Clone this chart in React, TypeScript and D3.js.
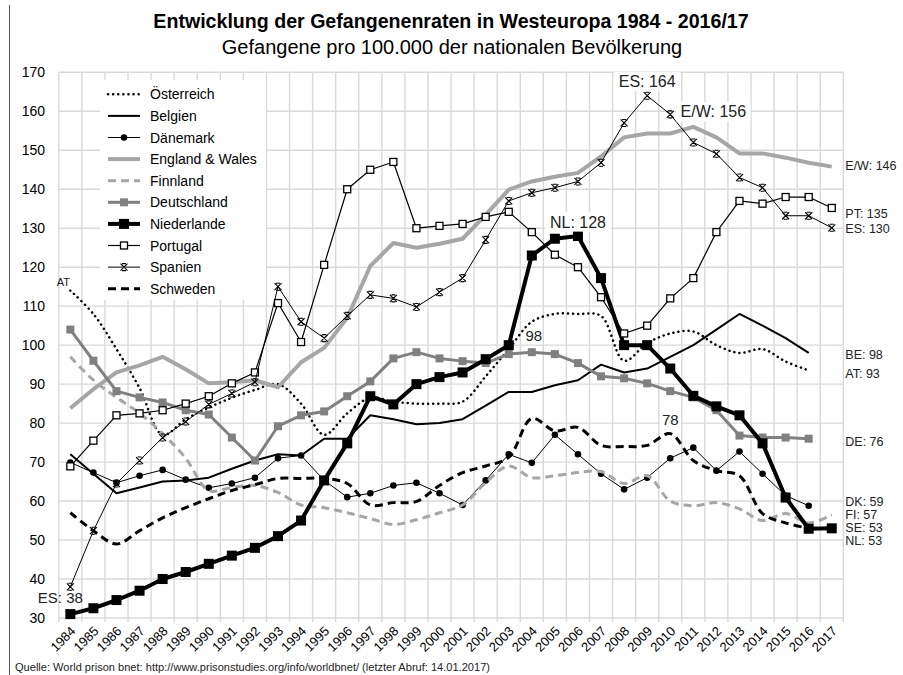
import React from 'react';
import * as d3 from 'd3';

// years on the category axis
const years = ['1984', '1985', '1986', '1987', '1988', '1989', '1990', '1991', '1992', '1993', '1994', '1995', '1996', '1997', '1998', '1999', '2000', '2001', '2002', '2003', '2004', '2005', '2006', '2007', '2008', '2009', '2010', '2011', '2012', '2013', '2014', '2015', '2016', '2017'];

const yTicks = [30, 40, 50, 60, 70, 80, 90, 100, 110, 120, 130, 140, 150, 160, 170];

// prisoners per 100,000 inhabitants
const oesterreich = [114, 108, 99, 89, 77, 81, 84, 86.5, 88.5, 90, 85, 77, 82.5, 86.5, 85.5, 85, 85, 85.5, 92, 99, 106, 108, 108, 107.5, 96, 100.5, 103, 103.5, 100, 98, 99, 95.8, 93.5, null];
const belgien = [72, 67, 62, 63.5, 65, 65.3, 66, 68.3, 70.4, 72, 71.7, 76, 76, 82, 81, 79.7, 80, 81, 84.5, 88, 88, 89.7, 91, 95, 93, 94, 97, 100, 104, 108, 105, 101.8, 98, null];
const daenemark = [69.9, 67.3, 64.7, 66.5, 68, 65.5, 63.4, 64.5, 66, 71, 71.7, 65.3, 61, 62, 64, 64.7, 62, 59, 65.3, 72, 69.8, 77, 72, 67, 63, 66, 71, 73.7, 67.8, 72.7, 67, 61.4, 58.8, null];
const englandWales = [83.8, 88.7, 93, 94.8, 97, 93.8, 90.2, 90.5, 91, 89.2, 95.6, 99.3, 107, 120.3, 126.2, 125, 126, 127.3, 133.4, 139.9, 142, 143.2, 144.2, 148.4, 153.3, 154.3, 154.3, 156, 153.3, 149.2, 149.2, 148.1, 146.8, 145.8];
const finnland = [97, 91, 86.6, 82.5, 77.3, 71, 62.7, 63.5, 64, 62.2, 59, 58.3, 57, 55.5, 54, 55.2, 57, 59, 64.7, 69, 66, 66.5, 67.3, 67.6, 64.5, 66.5, 60, 58.8, 59.6, 58, 55, 56.8, 54.4, 56.5];
const deutschland = [104, 96, 88.2, 86.6, 85.3, 83.3, 82.2, 76.3, 70.4, 79.2, 82, 83, 86.9, 90.7, 96.6, 98.2, 96.6, 95.9, 95.4, 97.7, 98.2, 97.7, 95.4, 92, 91.5, 90.2, 88.2, 86.6, 83.3, 76.8, 76.3, 76.3, 76, null];
const niederlande = [31, 32.5, 34.6, 37, 40, 41.8, 43.9, 46, 48, 51, 55, 65.3, 74.8, 86.9, 84.8, 90, 91.8, 93, 96.4, 100, 123, 127.3, 128, 117.2, 100, 100, 94, 87, 84.3, 82, 74.8, 60.9, 52.9, 53];
const portugal = [68.9, 75.5, 82, 82.5, 83.3, 85, 86.9, 90.2, 93, 110.8, 100.8, 120.6, 140, 145, 147, 130, 130.6, 131.1, 132.9, 134.2, 129, 123.2, 120, 112.3, 103, 105, 112, 117.2, 129, 137, 136.3, 138, 138, 135.2];
const spanien = [38, 52.4, 64.5, 70.4, 76.3, 80.4, 84.8, 87.6, 90.5, 115, 106, 101.8, 107.5, 112.9, 112, 109.8, 113.6, 117.2, 127, 137, 139.1, 140.4, 142, 146.8, 157, 164, 159.2, 152, 149.1, 143, 140.4, 133.2, 133.2, 130.1];
const schweden = [57, 52.4, 49, 52.4, 55.7, 58.3, 60.6, 62.7, 64.2, 65.8, 65.8, 65.8, 64.5, 59, 59.6, 59.9, 64, 67.3, 69, 71.2, 81.2, 78, 78.9, 74.3, 74, 74.3, 77.3, 70.4, 67.8, 66.5, 56.8, 54.4, 53, null];

const seriesNames = ['Österreich', 'Belgien', 'Dänemark', 'England & Wales', 'Finnland', 'Deutschland', 'Niederlande', 'Portugal', 'Spanien', 'Schweden'];
const seriesValues = [oesterreich, belgien, daenemark, englandWales, finnland, deutschland, niederlande, portugal, spanien, schweden];

// labels inside the plot: text, year, value, offset
const innerLabels = [
  {text: 'AT', year: '1984', value: 114, dx: -7, dy: -9, size: 11, box: false},
  {text: 'ES: 38', year: '1984', value: 38, dx: -10, dy: 11, size: 15, box: false},
  {text: 'ES: 164', year: '2009', value: 164, dx: 0, dy: -14, size: 16, box: true},
  {text: 'E/W: 156', year: '2011', value: 156, dx: 20, dy: -15, size: 16, box: true},
  {text: 'NL: 128', year: '2006', value: 128, dx: 0, dy: -14, size: 16, box: true},
  {text: '98', year: '2004', value: 98, dx: 2, dy: -17, size: 15, box: false},
  {text: '78', year: '2010', value: 78, dx: 0, dy: -11, size: 15, box: true},
];

// end labels right of the plot
const endLabels = [
  {text: 'E/W: 146', value: 146, dy: 0},
  {text: 'PT: 135', value: 135, dy: 5},
  {text: 'ES: 130', value: 130, dy: 1},
  {text: 'BE: 98', value: 98, dy: 2},
  {text: 'AT: 93', value: 93, dy: 2},
  {text: 'DE: 76', value: 76, dy: 3},
  {text: 'DK: 59', value: 59, dy: -3},
  {text: 'FI: 57', value: 57, dy: 2.5},
  {text: 'SE: 53', value: 53, dy: 0},
  {text: 'NL: 53', value: 53, dy: 12.5},
];

const FONT = '"Liberation Sans", Arial, sans-serif';

const styles = [
  {color: '#000', width: 2.5, dash: '0.1 5', cap: 'round', smooth: true, marker: null},
  {color: '#000', width: 2, dash: null, cap: 'butt', smooth: false, marker: null},
  {color: '#000', width: 1, dash: null, cap: 'butt', smooth: false, marker: 'circle'},
  {color: '#a6a6a6', width: 4, dash: null, cap: 'butt', smooth: false, marker: null},
  {color: '#a6a6a6', width: 3, dash: '8 5', cap: 'butt', smooth: true, marker: null},
  {color: '#808080', width: 3, dash: null, cap: 'butt', smooth: false, marker: 'greySquare'},
  {color: '#000', width: 4, dash: null, cap: 'butt', smooth: false, marker: 'bigSquare'},
  {color: '#000', width: 1.2, dash: null, cap: 'butt', smooth: false, marker: 'openSquare'},
  {color: '#000', width: 1, dash: null, cap: 'butt', smooth: false, marker: 'star'},
  {color: '#000', width: 3, dash: '8 5', cap: 'butt', smooth: true, marker: null},
];

function Marker({type, x, y}: {type: string | null; x: number; y: number}) {
  if (type === 'circle') return <circle cx={x} cy={y} r={3.3} fill="#000" />;
  if (type === 'greySquare') return <rect x={x - 4} y={y - 4} width={8} height={8} fill="#808080" />;
  if (type === 'bigSquare') return <rect x={x - 5} y={y - 5} width={10} height={10} fill="#000" />;
  if (type === 'openSquare') return <rect x={x - 3.5} y={y - 3.5} width={7} height={7} fill="#fff" stroke="#000" strokeWidth={1.3} />;
  if (type === 'star') {
    const s = 3.5;
    return (
      <path
        d={`M${x - s},${y - s}L${x + s},${y + s}M${x - s},${y + s}L${x + s},${y - s}M${x - 2},${y - s}L${x + 2},${y - s}M${x - 2},${y + s}L${x + 2},${y + s}`}
        stroke="#000" strokeWidth={1.1} fill="none" />
    );
  }
  return null;
}

export default function App() {
  const margin = {left: 58.8, right: 843.3, top: 72.3, bottom: 618};

  const x = d3.scaleBand().domain(years).range([margin.left, margin.right]);
  const cx = (yr: string) => (x(yr) as number) + x.bandwidth() / 2;
  const y = d3.scaleLinear().domain([30, 170]).range([margin.bottom, margin.top]);

  const lineFor = (smooth: boolean) => d3.line<number | null>()
    .defined(d => d !== null)
    .x((_, i) => cx(years[i]))
    .y(d => y(d as number))
    .curve(smooth ? d3.curveCatmullRom.alpha(0.5) : d3.curveLinear);

  const legend = {x: 100, y: 80, w: 166, h: 220, row0: 94.3, rowStep: 21.6};

  return (
    <div style={{position: 'absolute', left: 0, top: 0}}>
      <svg width={903} height={675} style={{display: 'block', fontFamily: FONT}}>
        <rect width={903} height={675} fill="#fff" />
        <line x1={9.5} x2={9.5} y1={5} y2={675} stroke="#555" strokeWidth={1} />

        <text x={451} y={28} textAnchor="middle" fontSize={19.6} fontWeight="bold">
          Entwicklung der Gefangenenraten in Westeuropa 1984 - 2016/17
        </text>
        <text x={452} y={53.5} textAnchor="middle" fontSize={20}>
          Gefangene pro 100.000 der nationalen Bevölkerung
        </text>

        {/* grid */}
        <g stroke="#d9d9d9" strokeWidth={1.4}>
          {yTicks.map(t => (
            <line key={t} x1={margin.left} x2={margin.right} y1={y(t)} y2={y(t)} />
          ))}
          {years.map(yr => (
            <line key={yr} x1={x(yr)} x2={x(yr)} y1={margin.top} y2={margin.bottom + 4} />
          ))}
          <line x1={margin.right} x2={margin.right} y1={margin.top} y2={margin.bottom + 4} />
        </g>

        {/* y axis labels */}
        {yTicks.map(t => (
          <text key={t} x={45} y={y(t)} textAnchor="end" dominantBaseline="central" fontSize={14} fill="#000">{t}</text>
        ))}

        {/* x axis labels */}
        {years.map(yr => (
          <text key={yr} transform={`translate(${cx(yr) + 6},${margin.bottom + 14}) rotate(-45)`}
            textAnchor="end" fontSize={13} fill="#000">{yr}</text>
        ))}

        {/* series */}
        {seriesValues.map((vals, i) => {
          const st = styles[i];
          return (
            <g key={seriesNames[i]}>
              <path d={lineFor(st.smooth)(vals) || ''} fill="none" stroke={st.color} strokeWidth={st.width}
                strokeDasharray={st.dash || undefined} strokeLinecap={st.cap as any} strokeLinejoin="round" />
              {st.marker && vals.map((v, j) => v === null ? null :
                <Marker key={j} type={st.marker} x={cx(years[j])} y={y(v)} />)}
            </g>
          );
        })}

        {/* legend */}
        <rect x={legend.x} y={legend.y} width={legend.w} height={legend.h} fill="#fff" />
        {seriesNames.map((name, i) => {
          const st = styles[i];
          const ry = legend.row0 + i * legend.rowStep;
          return (
            <g key={name}>
              <line x1={108} x2={140} y1={ry} y2={ry} stroke={st.color} strokeWidth={st.width}
                strokeDasharray={st.dash || undefined} strokeLinecap={st.cap as any} />
              <Marker type={st.marker} x={124} y={ry} />
              <text x={150} y={ry} dominantBaseline="central" fontSize={14} fill="#000">{name}</text>
            </g>
          );
        })}

        {/* labels */}
        {innerLabels.map(l => {
          const lx = cx(l.year) + l.dx;
          const ly = y(l.value) + l.dy;
          const w = l.text.length * l.size * 0.55;
          return (
            <g key={l.text}>
              {l.box && <rect x={lx - w / 2 - 2} y={ly - l.size * 0.6} width={w + 4} height={l.size * 1.2} fill="#fff" />}
              <text x={lx} y={ly} textAnchor="middle" dominantBaseline="central" fontSize={l.size} fill="#222">{l.text}</text>
            </g>
          );
        })}
        {endLabels.map(l => (
          <text key={l.text} x={margin.right + 2} y={y(l.value) + l.dy} dominantBaseline="central" fontSize={12.5} fill="#222">{l.text}</text>
        ))}

        <text x={15} y={667} dominantBaseline="central" fontSize={10} textLength={475} lengthAdjust="spacingAndGlyphs" fill="#222">
          Quelle:  World prison bnet: http://www.prisonstudies.org/info/worldbnet/  (letzter  Abruf: 14.01.2017)
        </text>
      </svg>
    </div>
  );
}
